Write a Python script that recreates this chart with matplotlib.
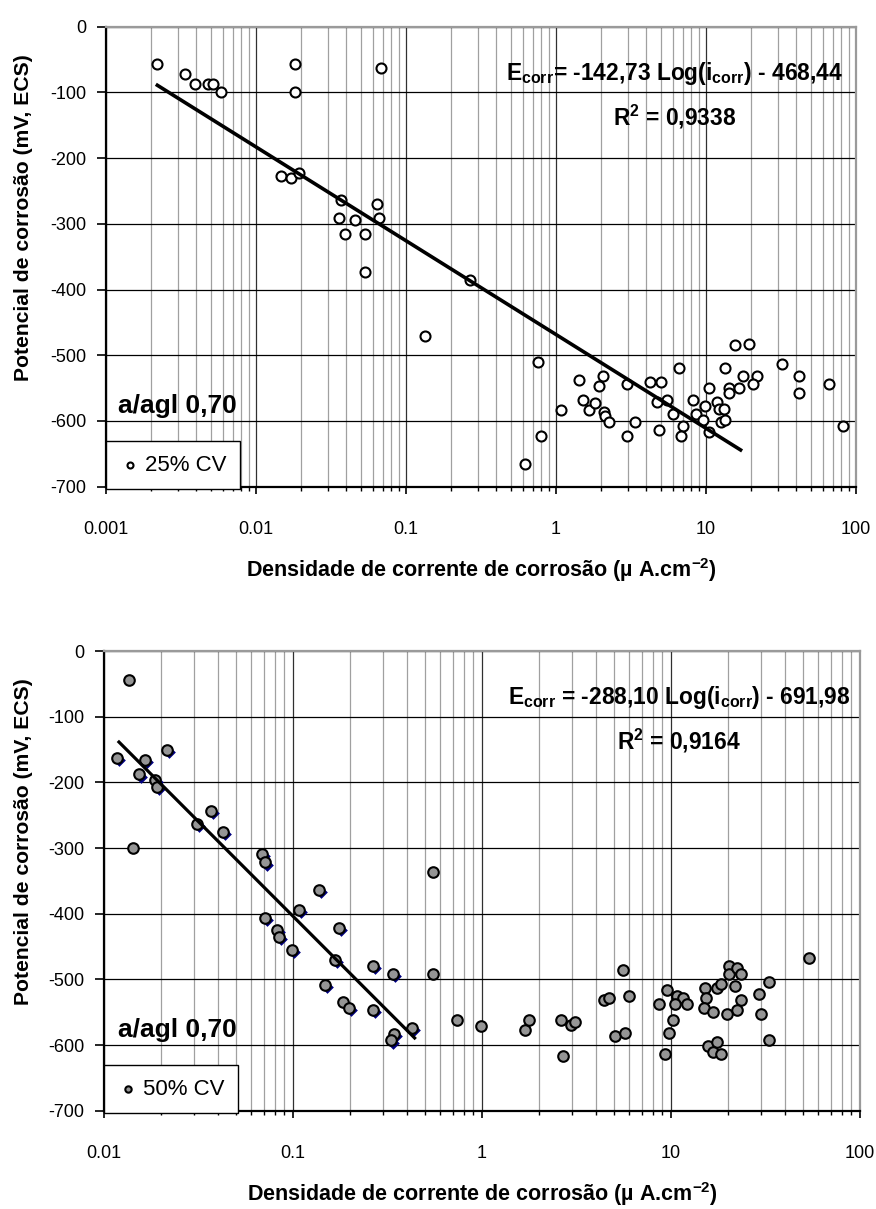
import numpy as np
import matplotlib.pyplot as plt
from matplotlib import ticker, transforms

plt.rcParams['font.family'] = ['Liberation Sans Narrow', 'Liberation Sans', 'DejaVu Sans']
plt.rcParams['axes.unicode_minus'] = False
plt.rcParams['mathtext.fontset'] = 'custom'

# --- 25% CV series (top chart) ---
x_25 = [0.00218, 0.00336, 0.00392, 0.00481, 0.0052, 0.00585, 0.0182, 0.0182, 0.0678,
        0.0146, 0.0170, 0.0194, 0.0367, 0.0357, 0.0392, 0.0457, 0.0533, 0.0638, 0.0664,
        0.0531, 0.134, 0.267, 15.6, 19.4, 0.762, 32.3, 6.58, 13.3, 1.42, 2.05, 1.94,
        2.96, 4.25, 4.99, 10.4, 14.3, 16.7, 17.7, 21.9, 20.5, 41.7, 41.7, 65.8, 82.3,
        1.08, 1.51, 1.65, 1.82, 2.1, 2.13, 2.27, 3.36, 2.97, 4.86, 4.69, 5.5, 6.0, 7.06,
        6.78, 8.23, 8.53, 9.85, 9.6, 10.4, 11.8, 12.3, 13.2, 12.5, 13.4, 14.3, 0.621, 0.791]
y_25 = [-56, -72, -87, -87, -87, -99, -56, -99, -63,
        -227, -230, -223, -264, -291, -315, -294, -315, -270, -291,
        -373, -470, -385, -485, -483, -510, -513, -519, -519, -538, -531, -546,
        -543, -541, -541, -550, -550, -550, -531, -531, -543, -531, -558, -543, -607,
        -583, -568, -583, -573, -586, -593, -601, -601, -623, -614, -571, -568, -590, -607,
        -623, -568, -589, -577, -599, -616, -571, -581, -581, -601, -599, -558, -666, -623]
fit_25 = (-142.73, -468.44)       # slope, intercept
fit_25_range = (0.0022, 17.0)
eq_25 = r'E$_{\mathdefault{corr}}$= -142,73 Log(i$_{\mathdefault{corr}}$) - 468,44'
r2_25 = r'R$^{\mathdefault{2}}$ = 0,9338'

# --- 50% CV series (bottom chart) ---
# points used for the trend line
x_50_fit = [0.01172, 0.01648, 0.01532, 0.0186, 0.01907, 0.02154, 0.0309, 0.0368, 0.0425,
            0.0688, 0.0714, 0.1368, 0.1072, 0.0708, 0.0826, 0.0843, 0.0992, 0.175, 0.166,
            0.148, 0.184, 0.1986, 0.264, 0.264, 0.337, 0.428, 0.3435, 0.329]
y_50_fit = [-163, -166, -188, -196, -207, -151, -263, -243, -276,
            -309, -322, -364, -395, -407, -425, -435, -455, -422, -471,
            -508, -535, -544, -480, -547, -492, -574, -583, -593]
# remaining points
x_50_rest = [0.01356, 0.01418, 0.551, 0.551, 0.735, 0.985, 1.689, 1.773, 2.618, 2.958,
             3.117, 2.69, 4.42, 4.7, 5.55, 5.99, 5.04, 5.69, 8.6, 9.49, 10.7, 11.6, 12.2,
             10.5, 10.25, 9.72, 9.33, 15.07, 15.4, 15.0, 16.7, 17.5, 18.4, 20.2, 20.2, 22.3,
             23.4, 21.8, 23.4, 22.3, 19.8, 29.2, 29.8, 33.0, 33.0, 53.5, 15.7, 17.5, 16.7, 18.5]
y_50_rest = [-44, -300, -336, -492, -562, -571, -577, -562, -562, -569,
             -565, -617, -531, -528, -486, -525, -586, -581, -538, -516, -525, -528, -538,
             -538, -562, -581, -613, -513, -528, -544, -550, -513, -507, -480, -492, -483,
             -492, -510, -531, -547, -553, -522, -553, -504, -593, -468, -601, -596, -611, -613]
fit_50 = (-288.10, -691.98)
fit_50_range = (0.012, 0.44)
eq_50 = r'E$_{\mathdefault{corr}}$ = -288,10 Log(i$_{\mathdefault{corr}}$) - 691,98'
r2_50 = r'R$^{\mathdefault{2}}$ = 0,9164'

x_label = r'Densidade de corrente de corrosão (µ A.cm$^{\mathdefault{-2}}$)'
y_label = 'Potencial de corrosão (mV, ECS)'
group_label = 'a/agl 0,70'


def style_axes(ax, xmin, xmax, ylab_x):
    ax.set_xscale('log')
    ax.set_xlim(xmin, xmax)
    ax.set_ylim(-700, 0)
    ax.set_yticks(np.arange(-700, 1, 100))
    ax.set_axisbelow(True)
    ax.yaxis.grid(True, color='black', lw=0.9)
    ax.xaxis.grid(True, which='major', color='#303030', lw=0.9)
    ax.xaxis.grid(True, which='minor', color='#a0a0a0', lw=0.9)
    ax.xaxis.set_major_formatter(ticker.FuncFormatter(lambda v, p: '%g' % v))
    ax.xaxis.set_minor_formatter(ticker.NullFormatter())
    for s in ('left', 'bottom'):
        ax.spines[s].set_color('black')
        ax.spines[s].set_linewidth(1.6)
    for s in ('top', 'right'):
        ax.spines[s].set_color('#9a9a9a')
        ax.spines[s].set_linewidth(1.6)
    ax.tick_params(axis='y', which='major', direction='out', length=6.5, width=1.2,
                   labelsize=13, pad=7.5)
    ax.tick_params(axis='x', which='major', direction='out', length=5, width=1.2,
                   labelsize=13, pad=19.5)
    ax.tick_params(axis='x', which='minor', direction='out', length=3, width=1.0)
    ax.set_xlabel(x_label, fontsize=15.5, fontweight='bold', labelpad=13)
    ax.set_ylabel(y_label, fontsize=15.2, fontweight='bold')
    ax.yaxis.set_label_coords(ylab_x, 0.586)


def add_legend(ax):
    leg = ax.legend(loc='lower left', bbox_to_anchor=(0, -0.005), borderaxespad=0,
                    fancybox=False, edgecolor='black', framealpha=1, fontsize=16,
                    handletextpad=0.15, borderpad=0.6, markerscale=0.6, handlelength=1.0)
    leg.get_frame().set_linewidth(1.0)


fig = plt.figure(figsize=(8.76, 12.09), dpi=100)
ax1 = fig.add_axes([106 / 876, 1 - 486.7 / 1209, 750 / 876, 460 / 1209])
ax2 = fig.add_axes([104 / 876, 1 - 1110.7 / 1209, 756 / 876, 459.7 / 1209])

# top chart
style_axes(ax1, 0.001, 100, -0.097)
ax1.scatter(x_25, y_25, s=52, facecolor='white', edgecolor='black', linewidth=1.5,
            zorder=3, label='25% CV')
xl = np.logspace(np.log10(fit_25_range[0]), np.log10(fit_25_range[1]), 50)
ax1.plot(xl, fit_25[0] * np.log10(xl) + fit_25[1], color='black', lw=2.6, zorder=4)
ax1.text(0.758, 0.885, eq_25, transform=ax1.transAxes, ha='center', fontsize=16.4,
         fontweight='bold')
ax1.text(0.758, 0.785, r2_25, transform=ax1.transAxes, ha='center', fontsize=16.4,
         fontweight='bold')
ax1.text(0.016, 0.16, group_label, transform=ax1.transAxes, ha='left', fontsize=19,
         fontweight='bold')
add_legend(ax1)

# bottom chart
style_axes(ax2, 0.01, 100, -0.094)
shadow = transforms.offset_copy(ax2.transData, fig=fig, x=1.5, y=-1.5, units='points')
ax2.scatter(x_50_fit, y_50_fit, s=42, marker='D', color='#000080', linewidth=0,
            transform=shadow, zorder=2)
ax2.scatter(x_50_fit + x_50_rest, y_50_fit + y_50_rest, s=58, facecolor='#959595',
            edgecolor='black', linewidth=1.5, zorder=3, label='50% CV')
xl = np.logspace(np.log10(fit_50_range[0]), np.log10(fit_50_range[1]), 50)
ax2.plot(xl, fit_50[0] * np.log10(xl) + fit_50[1], color='black', lw=2.3, zorder=4)
ax2.text(0.761, 0.885, eq_50, transform=ax2.transAxes, ha='center', fontsize=16.4,
         fontweight='bold')
ax2.text(0.761, 0.785, r2_50, transform=ax2.transAxes, ha='center', fontsize=16.4,
         fontweight='bold')
ax2.text(0.019, 0.16, group_label, transform=ax2.transAxes, ha='left', fontsize=19,
         fontweight='bold')
add_legend(ax2)

fig.savefig('out.png', dpi=100, facecolor='white')
